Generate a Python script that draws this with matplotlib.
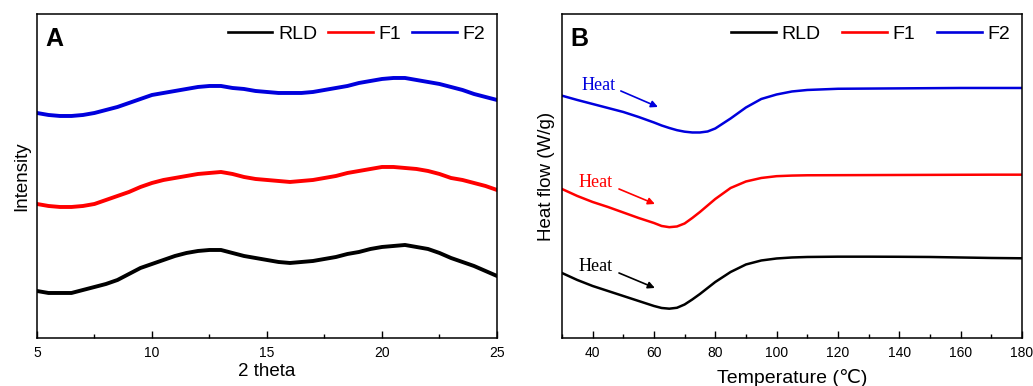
import matplotlib
matplotlib.use("Agg")
import matplotlib.pyplot as plt
from matplotlib.ticker import MultipleLocator

plt.rcParams['font.family'] = ['Liberation Sans', 'DejaVu Sans']

# ---- Panel A: XRD ----
two_theta = [5.0, 5.5, 6.0, 6.5, 7.0, 7.5, 8.0, 8.5, 9.0, 9.5, 10.0, 10.5, 11.0, 11.5,
             12.0, 12.5, 13.0, 13.5, 14.0, 14.5, 15.0, 15.5, 16.0, 16.5, 17.0, 17.5,
             18.0, 18.5, 19.0, 19.5, 20.0, 20.5, 21.0, 21.5, 22.0, 22.5, 23.0, 23.5,
             24.0, 24.5, 25.0]
xrd_rld = [47, 45, 45, 45, 48, 51, 54, 58, 64, 70, 74, 78, 82, 85, 87, 88, 88, 85, 82, 80,
           78, 76, 75, 76, 77, 79, 81, 84, 86, 89, 91, 92, 93, 91, 89, 85, 80, 76, 72, 67, 62]
xrd_f1 = [134, 132, 131, 131, 132, 134, 138, 142, 146, 151, 155, 158, 160, 162, 164, 165,
          166, 164, 161, 159, 158, 157, 156, 157, 158, 160, 162, 165, 167, 169, 171, 171,
          170, 169, 167, 164, 160, 158, 155, 152, 148]
xrd_f2 = [225, 223, 222, 222, 223, 225, 228, 231, 235, 239, 243, 245, 247, 249, 251, 252,
          252, 250, 249, 247, 246, 245, 245, 245, 246, 248, 250, 252, 255, 257, 259, 260,
          260, 258, 256, 254, 251, 248, 244, 241, 238]

# ---- Panel B: DSC ----
temp = [30, 35, 40, 45, 50, 55, 60, 62.5, 65, 67.5, 70, 72.5, 75, 77.5, 80, 85, 90, 95,
        100, 105, 110, 120, 130, 140, 150, 160, 170, 180]
dsc_rld = [65, 58, 52, 47, 42, 37, 32, 30, 29.3, 30.2, 33.5, 38.5, 44, 50, 56, 66, 73.5, 77.5,
           79.5, 80.5, 81, 81.3, 81.3, 81.2, 81, 80.5, 80, 79.7]
dsc_f1 = [149, 142, 136, 131, 125.5, 120, 115, 112, 110.8, 111.5, 114.5, 120, 126, 132.5,
          139, 150, 156.5, 160, 161.8, 162.4, 162.7, 162.8, 162.9, 163, 163.1, 163.2, 163.3, 163.3]
dsc_f2 = [242.3, 238, 234, 230, 226, 221, 215.5, 212.5, 210, 207.8, 206.3, 205.5, 205.5, 206.5,
          209.5, 219.5, 230.5, 239, 243.5, 246.5, 248, 249.2, 249.4, 249.6, 249.8, 250, 250, 250]

labels = ['RLD', 'F1', 'F2']
colors = ['black', '#ff0000', '#0000dd']

fig = plt.figure(figsize=(10.33, 3.86), dpi=100)
axA = fig.add_axes([0.0358, 0.1244, 0.4453, 0.8394])
axB = fig.add_axes([0.5440, 0.1244, 0.4453, 0.8394])

for ys, lab, c in zip([xrd_rld, xrd_f1, xrd_f2], labels, colors):
    axA.plot(two_theta, ys, color=c, lw=2.8, label=lab)
for ys, lab, c in zip([dsc_rld, dsc_f1, dsc_f2], labels, colors):
    axB.plot(temp, ys, color=c, lw=1.8, label=lab)

axA.set_xlim(5, 25)
axA.set_ylim(0, 324)
axA.xaxis.set_major_locator(MultipleLocator(5))
axA.xaxis.set_minor_locator(MultipleLocator(2.5))
axA.set_yticks([])
axA.set_xlabel('2 theta', fontsize=13.5, labelpad=2)
axA.set_ylabel('Intensity', fontsize=13.5, labelpad=5)

axB.set_xlim(30, 180)
axB.set_ylim(0, 324)
axB.xaxis.set_major_locator(MultipleLocator(20))
axB.xaxis.set_minor_locator(MultipleLocator(10))
axB.set_xticks([40, 60, 80, 100, 120, 140, 160, 180])
axB.set_yticks([])
axB.set_xlabel('Temperature (\u2103)', fontsize=14, labelpad=6)
axB.set_ylabel('Heat flow (W/g)', fontsize=13.5, labelpad=5)

for ax in (axA, axB):
    ax.tick_params(axis='x', which='major', direction='in', length=5, width=1,
                   labelsize=10, pad=6)
    ax.tick_params(axis='x', which='minor', direction='in', length=3, width=1)
    for s in ax.spines.values():
        s.set_linewidth(1.1)

axA.text(0.018, 0.96, 'A', transform=axA.transAxes, fontsize=18, fontweight='bold',
         va='top', ha='left')
axB.text(0.018, 0.96, 'B', transform=axB.transAxes, fontsize=18, fontweight='bold',
         va='top', ha='left')

legA = axA.legend(loc='upper right', ncol=3, frameon=False, fontsize=14, handlelength=2.3,
                  handletextpad=0.3, columnspacing=0.55, borderaxespad=0.2,
                  bbox_to_anchor=(1.0, 1.0))
legB = axB.legend(loc='upper right', ncol=3, frameon=False, fontsize=14, handlelength=2.3,
                  handletextpad=0.3, columnspacing=1.1, borderaxespad=0.2,
                  bbox_to_anchor=(1.0, 1.0))
for leg in (legA, legB):
    for h in leg.get_lines():
        h.set_linewidth(1.9)

# Heat annotations
heat_x = [42, 41, 41]
heat_y = [252, 155, 71]
arrow_start = [(49.2, 247), (48.6, 149), (48.6, 65)]
arrow_end = [(61.3, 231), (60.3, 134), (60.3, 50)]
for c, hx, hy, st, en in zip(['#0000dd', '#ff0000', 'black'], heat_x, heat_y,
                             arrow_start, arrow_end):
    axB.text(hx, hy, 'Heat', color=c, fontsize=13, family='Liberation Serif',
             ha='center', va='center')
    axB.annotate('', xy=en, xytext=st,
                 arrowprops=dict(arrowstyle='-|>', color=c, lw=1.2,
                                 mutation_scale=10, shrinkA=0, shrinkB=0))

fig.savefig('out.png', dpi=100)
